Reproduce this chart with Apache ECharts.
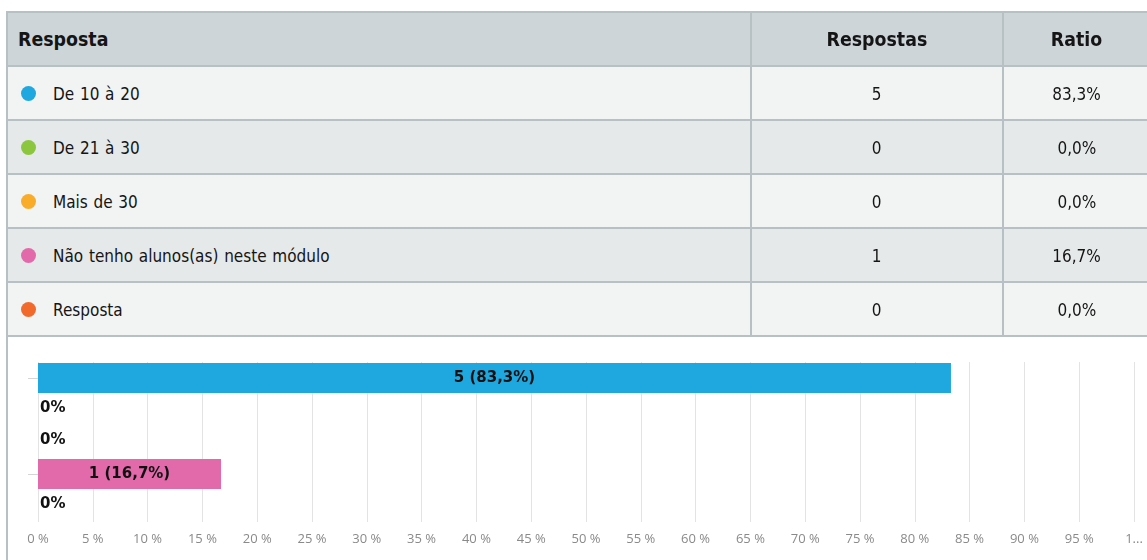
<!DOCTYPE html>
<html>
<head>
<meta charset="utf-8">
<script src="https://cdn.jsdelivr.net/npm/echarts@6/dist/echarts.min.js"></script>
<style>
  body { margin: 0; background: #fff; }
  #page { position: relative; width: 1147px; height: 560px; overflow: hidden; }
  #chart { position: absolute; left: 0; top: 0; width: 1147px; height: 560px; }
  #leftLine { position: absolute; left: 6px; top: 334px; width: 2px; height: 226px; background: #b7c1c4; }
  #tabela {
    position: absolute; left: 6px; top: 11px; width: 1150px;
    border-collapse: collapse; z-index: 2;
    font-family: "DejaVu Sans", sans-serif;
    color: #151515;
  }
  #tabela th, #tabela td { border: 2px solid #b7c1c4; padding: 0; }
  #tabela th { background: #cdd5d9; height: 52px; font-size: 20px; font-weight: bold; }
  #tabela td { height: 52px; font-size: 18px; }
  #tabela tr.claro td { background: #f2f3f3; }
  #tabela tr.escuro td { background: #e5e9ea; }
  .c1 { width: 732px; text-align: left; }
  .c2 { width: 250px; text-align: center; }
  .c3 { text-align: center; padding-right: 4px !important; }
  th.c1 { padding-left: 10px !important; }
  .dot { display: inline-block; width: 15px; height: 15px; border-radius: 50%; margin: 0 17px 0 13px; vertical-align: -1px; }
  /* fonte estreita */
  .t { display: inline-block; transform: scaleX(0.85); transform-origin: center; white-space: nowrap; }
  .c1 .t { transform-origin: left center; }
  th .t { transform: scaleX(0.87); }
  .lbl { word-spacing: 1px; }
</style>
</head>
<body>
<div id="page">
  <div id="chart"></div>
  <div id="leftLine"></div>
  <table id="tabela"></table>
</div>
<script>
// dados da pergunta
const respostas = ['De 10 à 20', 'De 21 à 30', 'Mais de 30', 'Não tenho alunos(as) neste módulo', 'Resposta'];
const contagens = [5, 0, 0, 1, 0];
const ratios = [83.3, 0, 0, 16.7, 0];
const cores = ['#1fa7df', '#8cc63f', '#f9ac2a', '#e26aaa', '#f2692c'];
const eixoX = [0, 5, 10, 15, 20, 25, 30, 35, 40, 45, 50, 55, 60, 65, 70, 75, 80, 85, 90, 95, 100];

function virgula(v) {
  return v.toFixed(1).replace('.', ',');
}

// monta a tabela
let html = '<tr><th class="c1"><span class="t">Resposta</span></th><th class="c2"><span class="t">Respostas</span></th><th class="c3"><span class="t">Ratio</span></th></tr>';
respostas.forEach(function (r, i) {
  html += '<tr class="' + (i % 2 === 0 ? 'claro' : 'escuro') + '">' +
    '<td class="c1"><span class="dot" style="background:' + cores[i] + '"></span><span class="t lbl">' + r + '</span></td>' +
    '<td class="c2"><span class="t">' + contagens[i] + '</span></td>' +
    '<td class="c3"><span class="t">' + virgula(ratios[i]) + '%</span></td></tr>';
});
document.getElementById('tabela').innerHTML = html;

// grafico de barras
const chart = echarts.init(document.getElementById('chart'));

const seriesData = ratios.map(function (v, i) {
  const temValor = contagens[i] > 0;
  return {
    value: v,
    itemStyle: { color: cores[i] },
    label: {
      show: true,
      position: temValor ? 'inside' : 'right',
      distance: 2,
      offset: temValor ? [0, 0] : [0, -2],
      formatter: temValor ? contagens[i] + ' (' + virgula(v) + '%)' : '0%'
    }
  };
});

chart.setOption({
  animation: false,
  grid: {
    left: 38,
    right: 13,
    top: 362,
    bottom: 38
  },
  xAxis: {
    type: 'value',
    min: eixoX[0],
    max: eixoX[eixoX.length - 1],
    interval: eixoX[1] - eixoX[0],
    axisLine: { show: false },
    axisTick: { show: false },
    splitLine: { lineStyle: { color: '#e3e3e3', width: 1 } },
    axisLabel: {
      color: '#8a8a8a',
      fontSize: 13,
      fontFamily: 'Open Sans',
      margin: 11,
      formatter: function (v) {
        return v === 100 ? '1...' : v + ' %';
      }
    }
  },
  yAxis: {
    type: 'category',
    inverse: true,
    data: respostas,
    axisLine: { show: false },
    axisLabel: { show: false },
    axisTick: {
      show: true,
      alignWithLabel: true,
      length: 10,
      interval: function (idx) { return idx === 0 || idx === 3; },
      lineStyle: { color: '#d5d5d5' }
    }
  },
  series: [{
    type: 'bar',
    barCategoryGap: '7%',
    data: seriesData,
    label: {
      color: '#111',
      fontWeight: 'bold',
      fontSize: 15,
      fontFamily: 'DejaVu Sans',
      textShadowColor: 'rgba(255,255,255,0.7)',
      textShadowOffsetX: 1,
      textShadowOffsetY: 1,
      textShadowBlur: 0
    }
  }]
});
</script>
</body>
</html>
